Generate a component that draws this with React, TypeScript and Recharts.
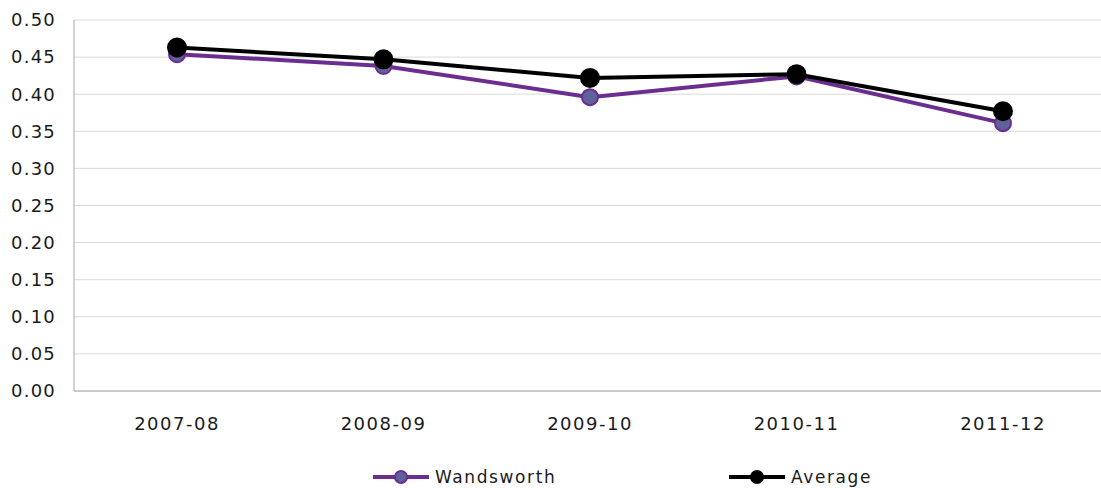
import { LineChart, Line, XAxis, YAxis, CartesianGrid, Legend } from 'recharts'

const years = ['2007-08', '2008-09', '2009-10', '2010-11', '2011-12']
const wandsworth = [0.454, 0.438, 0.396, 0.424, 0.361]
const average = [0.463, 0.447, 0.422, 0.427, 0.377]
const yTicks = [0, 0.05, 0.1, 0.15, 0.2, 0.25, 0.3, 0.35, 0.4, 0.45, 0.5]

const data = years.map((year, i) => ({
  year,
  wandsworth: wandsworth[i],
  average: average[i],
}))

const FONT = '"DejaVu Sans", Verdana, sans-serif'
const PURPLE = '#6b2d8f'
const SLATE = '#5f6199'

function LegendItem({ label, stroke, fill }: { label: string; stroke: string; fill: string }) {
  return (
    <div style={{ display: 'flex', alignItems: 'center' }}>
      <svg width={62} height={20}>
        <line x1={0} y1={10} x2={56} y2={10} stroke={stroke} strokeWidth={4} />
        <circle cx={28} cy={10} r={6} fill={fill} stroke={stroke} strokeWidth={2} />
      </svg>
      <span style={{ fontFamily: FONT, fontSize: 17, letterSpacing: 1.6, color: '#1a1a1a' }}>{label}</span>
    </div>
  )
}

function ChartLegend() {
  return (
    <div style={{ display: 'flex', paddingLeft: 373 }}>
      <div style={{ width: 356 }}>
        <LegendItem label="Wandsworth" stroke={PURPLE} fill={SLATE} />
      </div>
      <LegendItem label="Average" stroke="#000" fill="#000" />
    </div>
  )
}

export default function App() {
  return (
    <div style={{ position: 'absolute', left: 0, top: 0, width: 1101, height: 488, overflow: 'hidden', background: '#fff' }}>
      <LineChart width={1106} height={488} data={data} margin={{ top: 20, right: 0, bottom: 27, left: 0 }}>
        <CartesianGrid vertical={false} stroke="#d9d9d9" />
        <XAxis
          dataKey="year"
          padding={{ left: 103, right: 103 }}
          tickLine={false}
          tickSize={0}
          tickMargin={26}
          height={50}
          axisLine={{ stroke: '#a6a6a6' }}
          tick={{ fontSize: 18, fontFamily: FONT, fill: '#1a1a1a', letterSpacing: 1.5 }}
        />
        <YAxis
          domain={[0, 0.5]}
          ticks={yTicks}
          width={74}
          tickLine={false}
          tickSize={0}
          tickMargin={18}
          axisLine={{ stroke: '#a6a6a6' }}
          tickFormatter={(v: number) => v.toFixed(2)}
          tick={{ fontSize: 18, fontFamily: FONT, fill: '#1a1a1a', letterSpacing: 1.2 }}
        />
        <Legend
          content={<ChartLegend />}
          wrapperStyle={{ position: 'absolute', top: 467, left: 0, width: 1101 }}
        />
        <Line
          type="linear"
          dataKey="wandsworth"
          name="Wandsworth"
          stroke={PURPLE}
          strokeWidth={4}
          dot={{ r: 8, fill: SLATE, stroke: PURPLE, strokeWidth: 2 }}
          isAnimationActive={false}
        />
        <Line
          type="linear"
          dataKey="average"
          name="Average"
          stroke="#000"
          strokeWidth={4}
          dot={{ r: 9, fill: '#000', stroke: '#000', strokeWidth: 2 }}
          isAnimationActive={false}
        />
      </LineChart>
    </div>
  )
}
